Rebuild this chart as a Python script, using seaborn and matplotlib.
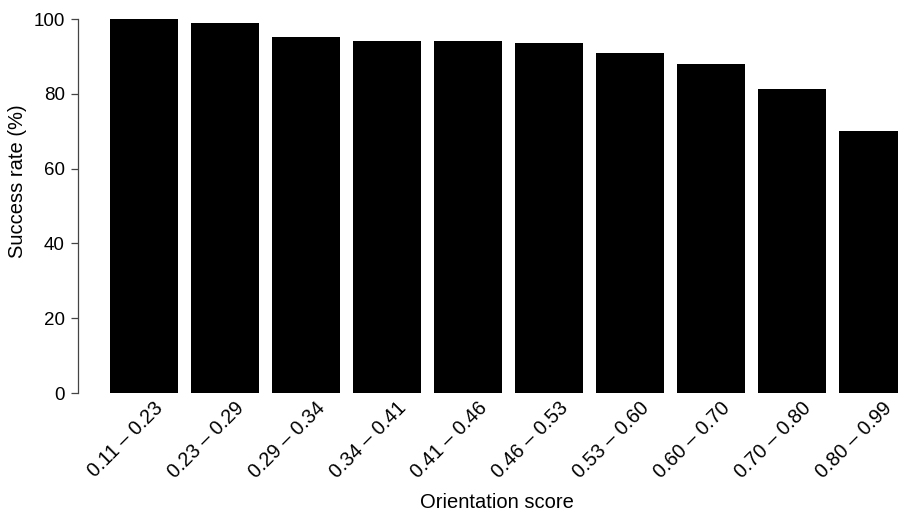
import matplotlib
matplotlib.use("Agg")
import matplotlib.pyplot as plt
import matplotlib.transforms as mtransforms
import seaborn as sns
import pandas as pd

categories = ["0.11 – 0.23", "0.23 – 0.29", "0.29 – 0.34", "0.34 – 0.41", "0.41 – 0.46",
              "0.46 – 0.53", "0.53 – 0.60", "0.60 – 0.70", "0.70 – 0.80", "0.80 – 0.99"]
success = [100.0, 99.0, 95.1, 94.0, 94.0, 93.6, 90.8, 88.0, 81.2, 70.1]
yticks = [0, 20, 40, 60, 80, 100]

df = pd.DataFrame({"cat": categories, "val": success})

sns.set_theme(style="white")
plt.rcParams['font.family'] = ['Liberation Sans', 'DejaVu Sans']

W, H = 898, 516
fig = plt.figure(figsize=(W / 100, H / 100), dpi=100)
ax = fig.add_axes([78 / W, (H - 393) / H, (W - 78) / W, 374 / H])

sns.barplot(data=df, x="cat", y="val", color="black", saturation=1, width=68 / 81,
            linewidth=0, ax=ax, order=categories)

ax.set_xlim((78 - 144) / 81, (W - 144) / 81)
ax.set_ylim(0, 100)
ax.set_yticks(yticks)
ax.set_yticklabels([str(t) for t in yticks])

for s in ["top", "right", "bottom"]:
    ax.spines[s].set_visible(False)
ax.spines["left"].set_color("#444444")
ax.spines["left"].set_linewidth(0.9)

ax.tick_params(axis="y", length=5.4, width=0.9, color="#444444", pad=4.0,
               labelsize=13.5, labelcolor="black", left=True)
ax.tick_params(axis="x", length=0, pad=8.6, labelsize=14.2, labelcolor="black")

offset = mtransforms.ScaledTranslation(16 / 100, 0, fig.dpi_scale_trans)
for lbl in ax.get_xticklabels():
    lbl.set_rotation(45)
    lbl.set_ha("right")
    lbl.set_va("center")
    lbl.set_rotation_mode("anchor")
    lbl.set_transform(lbl.get_transform() + offset)

ax.set_xlabel("Orientation score", fontsize=14.5, color="black")
ax.set_ylabel("Success rate (%)", fontsize=14.5, color="black")
ax.xaxis.set_label_coords((497 - 78) / 820, (393 - 503) / 374)
ax.xaxis.label.set_va("center")
ax.yaxis.set_label_coords((17.5 - 78) / 820, (393 - 181.5) / 374)
ax.yaxis.label.set_va("center")

fig.savefig("out.png", dpi=100)
